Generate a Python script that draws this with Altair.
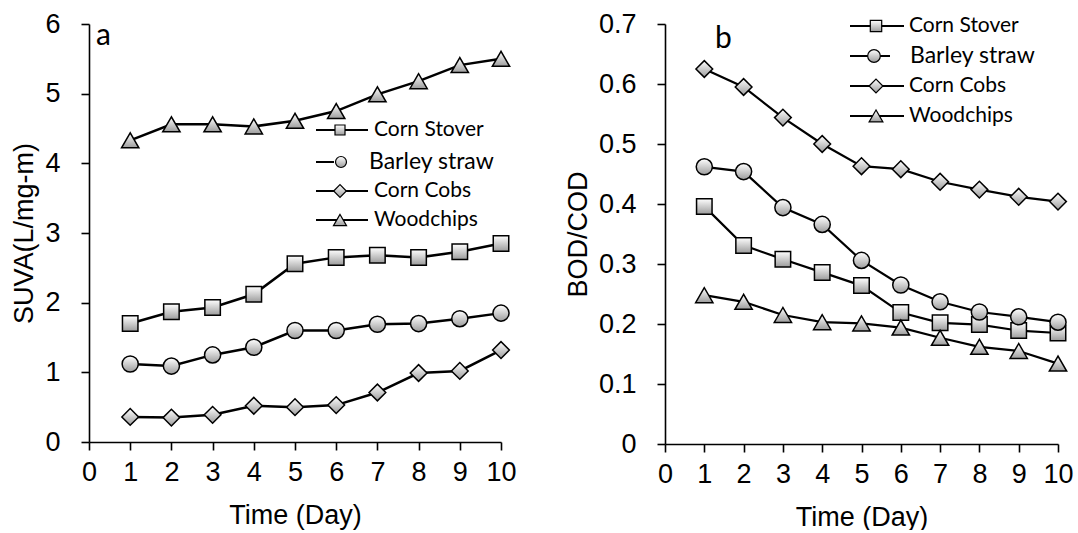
import altair as alt
import pandas as pd

days = [1, 2, 3, 4, 5, 6, 7, 8, 9, 10]
series_names = ["Corn Stover", "Barley straw", "Corn Cobs", "Woodchips"]
shapes = ["square", "circle", "diamond", "triangle-up"]

suva_stover = [1.70, 1.87, 1.93, 2.12, 2.56, 2.65, 2.68, 2.65, 2.73, 2.85]
suva_barley = [1.12, 1.09, 1.25, 1.36, 1.60, 1.60, 1.69, 1.70, 1.77, 1.85]
suva_cobs = [0.36, 0.35, 0.39, 0.52, 0.50, 0.53, 0.71, 0.99, 1.02, 1.32]
suva_wood = [4.33, 4.56, 4.56, 4.53, 4.61, 4.75, 4.99, 5.18, 5.41, 5.50]

bod_stover = [0.396, 0.331, 0.308, 0.286, 0.264, 0.219, 0.202, 0.199, 0.189, 0.185]
bod_barley = [0.462, 0.454, 0.394, 0.366, 0.306, 0.265, 0.237, 0.220, 0.212, 0.203]
bod_cobs = [0.625, 0.595, 0.544, 0.500, 0.463, 0.458, 0.437, 0.424, 0.412, 0.404]
bod_wood = [0.248, 0.237, 0.215, 0.203, 0.201, 0.194, 0.177, 0.162, 0.155, 0.134]

x_ticks = [0, 1, 2, 3, 4, 5, 6, 7, 8, 9, 10]
suva_ticks = [0, 1, 2, 3, 4, 5, 6]
bod_ticks = [0, 0.1, 0.2, 0.3, 0.4, 0.5, 0.6, 0.7]


def long_df(cols):
    rows = []
    for name, vals in zip(series_names, cols):
        for d, v in zip(days, vals):
            rows.append({"day": d, "value": v, "series": name})
    return pd.DataFrame(rows)


suva_df = long_df([suva_stover, suva_barley, suva_cobs, suva_wood])
bod_df = long_df([bod_stover, bod_barley, bod_cobs, bod_wood])

grad = alt.LinearGradient(
    gradient="linear",
    stops=[alt.GradientStop(color="#ffffff", offset=0),
           alt.GradientStop(color="#9c9c9c", offset=1)],
    x1=0, x2=0, y1=0, y2=1,
)

AX_FONT = "Liberation Sans"
LEG_FONT = "Lato"
one_row = alt.InlineData(values=[{"k": 1}])


def panel(df, ymax, yticks, ytitle, w, h, sizes, lw, leg, tag):
    x = alt.X("day:Q", scale=alt.Scale(domain=[0, 10], nice=False),
              axis=alt.Axis(values=x_ticks, title="Time (Day)", domain=True,
                            labelFlush=False, labelOverlap=False))
    y = alt.Y("value:Q", scale=alt.Scale(domain=[0, ymax], nice=False, zero=True),
              axis=alt.Axis(values=yticks, title=ytitle, format="~g", domain=True,
                            labelFlush=False, labelOverlap=False))
    base = alt.Chart(df).encode(x=x, y=y)
    lines = base.mark_line(color="black", strokeWidth=lw).encode(detail="series:N")
    pts = base.mark_point(filled=True, fill=grad, stroke="black", strokeWidth=1.5,
                          opacity=1).encode(
        shape=alt.Shape("series:N", scale=alt.Scale(domain=series_names, range=shapes),
                        legend=None),
        size=alt.Size("series:N", scale=alt.Scale(domain=series_names, range=sizes),
                      legend=None),
    )
    layers = [lines, pts]
    # manual legend
    for i, name in enumerate(series_names):
        ly = leg["ys"][i]
        lx1, lx2 = leg["line"][i]
        layers.append(alt.Chart(one_row).mark_rule(color="black", strokeWidth=2).encode(
            x=alt.value(lx1), x2=alt.value(lx2), y=alt.value(ly)))
        layers.append(alt.Chart(one_row).mark_point(
            filled=True, fill=grad, stroke="black", strokeWidth=1.2, opacity=1,
            shape=shapes[i], size=leg["sizes"][i]).encode(
            x=alt.value(leg["sym"][i]), y=alt.value(ly)))
        layers.append(alt.Chart(one_row).mark_text(
            text=name, align="left", baseline="middle", font=LEG_FONT,
            fontSize=leg["fs"][i], color="black").encode(
            x=alt.value(leg["tx"][i]), y=alt.value(ly)))
    layers.append(alt.Chart(one_row).mark_text(
        text=tag["t"], align="left", baseline="alphabetic", font=LEG_FONT,
        fontSize=tag["fs"], color="black").encode(
        x=alt.value(tag["x"]), y=alt.value(tag["y"])))
    return alt.layer(*layers).properties(width=w, height=h)


left_leg = {
    "ys": [106, 138, 167, 196],
    "line": [(227, 279), (227, 245), (227, 279), (227, 279)],
    "sym": [251, 252, 251, 251],
    "tx": [285, 280, 285, 285],
    "sizes": [100, 120, 160, 170],
    "fs": [21, 23, 21, 21],
}
right_leg = {
    "ys": [2, 32, 62, 92],
    "line": [(185, 239), (185, 225), (185, 239), (185, 239)],
    "sym": [211, 209, 211, 211],
    "tx": [244, 245, 244, 244],
    "sizes": [130, 160, 190, 190],
    "fs": [21, 23, 21, 21],
}

left = panel(suva_df, 6, suva_ticks, "SUVA(L/mg-m)", 412, 418,
             [240, 300, 420, 440], 2.5, left_leg, {"t": "a", "x": 7, "y": 21, "fs": 30})
right = panel(bod_df, 0.7, bod_ticks, "BOD/COD", 393, 420,
              [270, 400, 450, 440], 2.2, right_leg, {"t": "b", "x": 50, "y": 24, "fs": 30})

chart = alt.hconcat(left, right, spacing=47).properties(
    padding={"left": 10, "top": 10, "right": 0, "bottom": 0},
    background="white",
).configure_view(stroke=None).configure_axis(
    grid=False,
    domain=True,
    domainColor="black",
    domainWidth=1.6,
    tickColor="black",
    tickWidth=1.6,
    tickSize=8,
    labelFont=AX_FONT,
    labelFontSize=27,
    labelColor="black",
    titleFont=AX_FONT,
    titleFontSize=27,
    titleFontWeight="normal",
    titleColor="black",
).configure_axisY(
    labelPadding=21,
    titlePadding=6,
).configure_axisX(
    labelPadding=9,
    titlePadding=17,
)

chart.save("out.html", embed_options={"renderer": "svg", "actions": False})
